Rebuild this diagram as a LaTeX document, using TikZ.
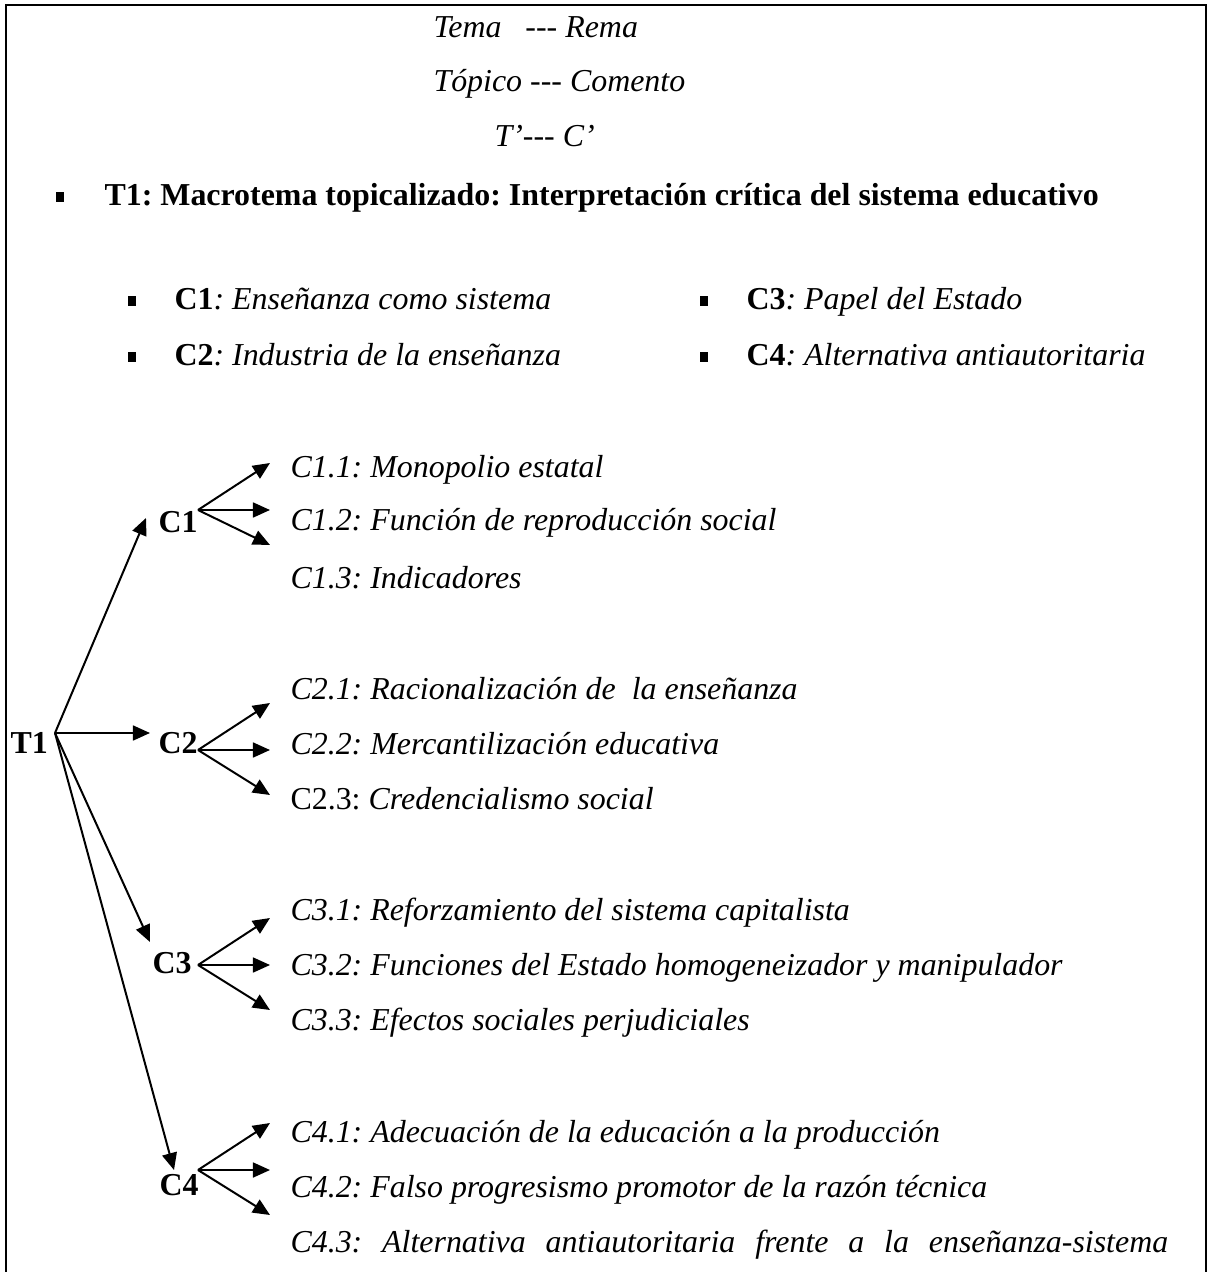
\documentclass[tikz,border=0pt]{standalone}
\usepackage{fontspec}
\setmainfont{Liberation Serif}
\usetikzlibrary{arrows.meta}
\frenchspacing

\begin{document}
\begin{tikzpicture}[
  x=0.376pt, y=-0.376pt,
  font=\fontsize{12}{14}\selectfont,
  txt/.style={anchor=base west, inner sep=0pt, font=\fontsize{12}{14}\selectfont\itshape},
  lvl/.style={anchor=base west, inner sep=0pt, font=\fontsize{12}{14}\selectfont\bfseries},
  sqbullet/.style={fill=black, inner sep=0pt, minimum width=3.1pt, minimum height=3.7pt},
  flow/.style={-{Triangle[length=6.4pt, width=5.6pt]}, line width=0.75pt},
  frame/.style={line width=1.1pt}
]
  \useasboundingbox (0,0) rectangle (1211,1272);

  % ---- open frame ----
  \draw[frame] (6,1272) -- (6,5) -- (1206,5) -- (1206,1272);

  % ---- header ----
  \node[txt] (tema)   at (433,38)  {Tema\ \ \ -{}-{}- Rema};
  \node[txt] (topico) at (433,92)  {Tópico -{}-{}- Comento};
  \node[txt] (tc)     at (494,147) {T’-{}-{}- C’};

  \node[sqbullet] (b0) at (60,197) {};
  \node[lvl] (macro) at (104,206)
        {T1: Macrotema topicalizado: Interpretación crítica del sistema educativo};

  % ---- comentos (two columns) ----
  \node[sqbullet] (b1) at (132,301) {};
  \node[txt] (l1) at (174,310) {\textbf{\upshape C1}: Enseñanza como sistema};
  \node[sqbullet] (b2) at (132,357) {};
  \node[txt] (l2) at (174,366) {\textbf{\upshape C2}: Industria de la enseñanza};
  \node[sqbullet] (b3) at (704,301) {};
  \node[txt] (l3) at (746,310) {\textbf{\upshape C3}: Papel del Estado};
  \node[sqbullet] (b4) at (704,357) {};
  \node[txt] (l4) at (746,366) {\textbf{\upshape C4}: Alternativa antiautoritaria};

  % ---- tree: level 1 ----
  \node[lvl] (t1) at (10,753)  {T1};
  \node[lvl] (c1) at (158,532) {C1};
  \node[lvl] (c2) at (158,753) {C2};
  \node[lvl] (c3) at (152,973) {C3};
  \node[lvl] (c4) at (159,1195) {C4};

  % ---- tree: level 2 ----
  \node[txt] (c11) at (290,477)  {C1.1: Monopolio estatal};
  \node[txt] (c12) at (290,530)  {C1.2: Función de reproducción social};
  \node[txt] (c13) at (290,588)  {C1.3: Indicadores};
  \node[txt] (c21) at (290,699)  {C2.1: Racionalización de\ \ la enseñanza};
  \node[txt] (c22) at (290,754)  {C2.2: Mercantilización educativa};
  \node[txt] (c23) at (290,809)  {\upshape C2.3: \itshape Credencialismo social};
  \node[txt] (c31) at (290,920)  {C3.1: Reforzamiento del sistema capitalista};
  \node[txt] (c32) at (290,975)  {C3.2: Funciones del Estado homogeneizador y manipulador};
  \node[txt] (c33) at (290,1030) {C3.3: Efectos sociales perjudiciales};
  \node[txt] (c41) at (290,1142) {C4.1: Adecuación de la educación a la producción};
  \node[txt] (c42) at (290,1197) {C4.2: Falso progresismo promotor de la razón técnica};
  \node[txt] (c43) at (290,1252)
        {\makebox[330pt][s]{C4.3: Alternativa antiautoritaria frente a la enseñanza-sistema}};

  % ---- connector ends ----
  \coordinate (t1o) at (55,733);
  \coordinate (t1a) at (146,518);
  \coordinate (t1b) at (150,733);
  \coordinate (t1c) at (150,942);
  \coordinate (t1d) at (174,1170);
  \foreach \n/\y/\lo in {c1/510/35, c2/750/45, c3/965/45, c4/1170/45} {
    \coordinate (\n o) at (198,\y);
    \coordinate (\n a) at (270,\y-47);
    \coordinate (\n b) at (270,\y);
    \coordinate (\n c) at (270,\y+\lo);
  }

  % ---- arrows ----
  \draw[flow] (t1o) -- (t1a);
  \draw[flow] (t1o) -- (t1b);
  \draw[flow] (t1o) -- (t1c);
  \draw[flow] (t1o) -- (t1d);
  \foreach \n in {c1,c2,c3,c4} {
    \draw[flow] (\n o) -- (\n a);
    \draw[flow] (\n o) -- (\n b);
    \draw[flow] (\n o) -- (\n c);
  }
\end{tikzpicture}
\end{document}
